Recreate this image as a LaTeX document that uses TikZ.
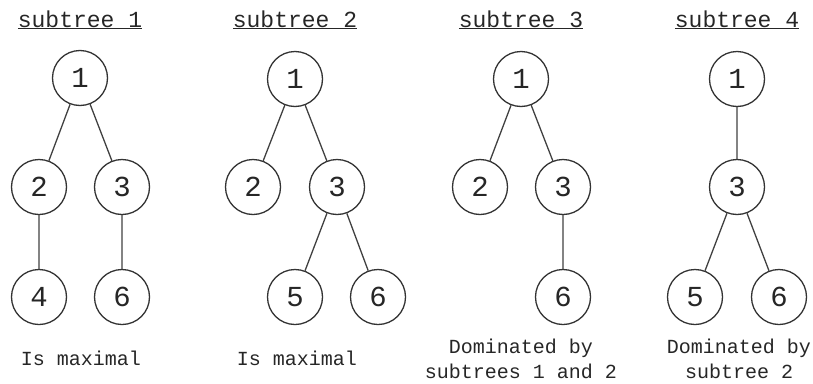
\documentclass[tikz,border=0pt]{standalone}
\usepackage{fontspec}
\setmainfont{Liberation Mono}
\begin{document}
\begin{tikzpicture}[x=1pt,y=-1pt,
  tnode/.style={circle,draw=black!80,line width=1.3pt,minimum size=55pt,inner sep=0pt,text=black!85,font=\fontsize{29}{29}\selectfont},
  edge/.style={draw=black!75,line width=1.3pt},
  title/.style={font=\fontsize{23}{23}\selectfont,anchor=base,text=black!85},
  lbl/.style={font=\fontsize{20}{25}\selectfont,align=center,text=black!85}]
\useasboundingbox (0,0) rectangle (813,383);
% subtree 1
\node[title] (t1) at (80,27) {\underline{subtree 1}};
\node[tnode] (a1) at (80,78) {1};
\node[tnode] (a2) at (39,187) {2};
\node[tnode] (a3) at (122,187) {3};
\node[tnode] (a4) at (39,297) {4};
\node[tnode] (a6) at (122,297) {6};
\draw[edge] (a1)--(a2) (a1)--(a3) (a2)--(a4) (a3)--(a6);
\node[lbl] (l1) at (81,358) {Is maximal};
% subtree 2
\node[title] (t2) at (295,27) {\underline{subtree 2}};
\node[tnode] (b1) at (295,79) {1};
\node[tnode] (b2) at (253,187) {2};
\node[tnode] (b3) at (337,187) {3};
\node[tnode] (b5) at (295,297) {5};
\node[tnode] (b6) at (378,297) {6};
\draw[edge] (b1)--(b2) (b1)--(b3) (b3)--(b5) (b3)--(b6);
\node[lbl] (l2) at (297,358) {Is maximal};
% subtree 3
\node[title] (t3) at (521,27) {\underline{subtree 3}};
\node[tnode] (c1) at (521,79) {1};
\node[tnode] (c2) at (480,187) {2};
\node[tnode] (c3) at (563,187) {3};
\node[tnode] (c6) at (563,297) {6};
\draw[edge] (c1)--(c2) (c1)--(c3) (c3)--(c6);
\node[lbl] (l3) at (521,359) {Dominated by\\subtrees 1 and 2};
% subtree 4
\node[title] (t4) at (737,27) {\underline{subtree 4}};
\node[tnode] (d1) at (737,79) {1};
\node[tnode] (d3) at (737,187) {3};
\node[tnode] (d5) at (695,297) {5};
\node[tnode] (d6) at (779,297) {6};
\draw[edge] (d1)--(d3) (d3)--(d5) (d3)--(d6);
\node[lbl] (l4) at (739,359) {Dominated by\\subtree 2};
\end{tikzpicture}
\end{document}
